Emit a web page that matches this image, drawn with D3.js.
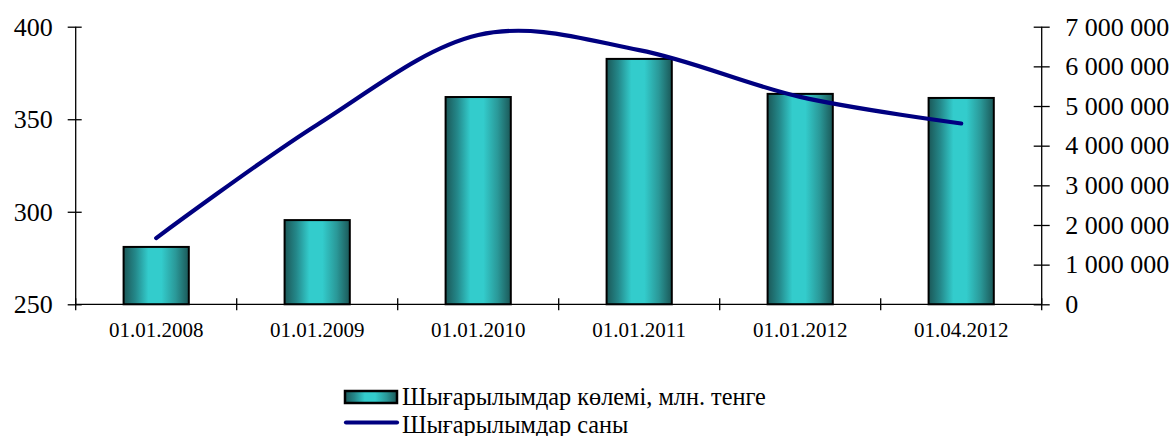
<!DOCTYPE html>
<html>
<head>
<meta charset="utf-8">
<script src="https://cdn.jsdelivr.net/npm/d3@7"></script>
<style>
  html, body { margin: 0; padding: 0; background: #fff; }
  svg { display: block; }
  svg text { font-family: "Liberation Serif", "Times New Roman", serif !important; }
</style>
</head>
<body>
<svg id="chart" width="1173" height="436"></svg>
<script>
const categories = ["01.01.2008", "01.01.2009", "01.01.2010", "01.01.2011", "01.01.2012", "01.04.2012"];
const volumeValues = [281, 295.5, 362, 382.6, 363.7, 361.5];           // bars, left axis
const issueCounts = [1670000, 4530000, 6790000, 6410000, 5230000, 4560000]; // line, right axis
const leftTicks = [250, 300, 350, 400];
const rightTicks = [0, 1000000, 2000000, 3000000, 4000000, 5000000, 6000000, 7000000];
const seriesNames = ["Шығарылымдар көлемі, млн. тенге", "Шығарылымдар саны"];

const svg = d3.select("#chart");
const plot = { left: 75.7, right: 1041.7, top: 26.7, bottom: 304.3 };

const defs = svg.append("defs");
const grad = defs.append("linearGradient").attr("id", "barGrad")
  .attr("x1", "0%").attr("x2", "100%").attr("y1", "0%").attr("y2", "0%");
[[0, "#1b5858"], [0.18, "#24888a"], [0.38, "#33cccc"], [0.58, "#33cccc"], [0.8, "#2a9898"], [1, "#1b5858"]]
  .forEach(([o, c]) => grad.append("stop").attr("offset", o).attr("stop-color", c));

const x = d3.scaleBand().domain(categories).range([plot.left, plot.right]).paddingInner(0).paddingOuter(0);
const yL = d3.scaleLinear().domain([250, 400]).range([plot.bottom, plot.top]);
const yR = d3.scaleLinear().domain([0, 7000000]).range([plot.bottom, plot.top]);

const barW = x.bandwidth() * 0.405;

// bars
svg.append("g").selectAll("rect").data(categories).join("rect")
  .attr("x", d => x(d) + x.bandwidth() / 2 - barW / 2)
  .attr("y", (d, i) => yL(volumeValues[i]))
  .attr("width", barW)
  .attr("height", (d, i) => yL(250) - yL(volumeValues[i]))
  .attr("fill", "url(#barGrad)")
  .attr("stroke", "#000").attr("stroke-width", 2);

// axes
const fmtSpace = v => d3.format(",")(v).replace(/,/g, " ");

const leftAxis = svg.append("g").attr("transform", `translate(${plot.left},0)`)
  .call(d3.axisLeft(yL).tickValues(leftTicks).tickSize(8).tickPadding(15).tickFormat(d3.format("d")));
leftAxis.selectAll(".tick line").attr("x2", -8).attr("x1", 6);
leftAxis.select(".domain").attr("d", `M0,${plot.top}V${plot.bottom}`);

const rightAxis = svg.append("g").attr("transform", `translate(${plot.right},0)`)
  .call(d3.axisRight(yR).tickValues(rightTicks).tickSize(8).tickPadding(15.5).tickFormat(fmtSpace));
rightAxis.selectAll(".tick line").attr("x1", -8).attr("x2", 8);
rightAxis.select(".domain").attr("d", `M0,${plot.top}V${plot.bottom}`);

[leftAxis, rightAxis].forEach(a => {
  a.selectAll("text").attr("font-size", 26).attr("fill", "#000");
  a.selectAll("line, path").attr("stroke", "#000").attr("stroke-width", 1.3);
});

const xAxis = svg.append("g").attr("transform", `translate(0,${plot.bottom})`)
  .call(d3.axisBottom(x).tickSize(0).tickPadding(18));
xAxis.select(".domain").attr("d", `M${plot.left},0H${plot.right}`).attr("stroke", "#000").attr("stroke-width", 1.3);
xAxis.selectAll("text").attr("font-size", 21).attr("fill", "#000");
// category boundary ticks
const boundaries = categories.map(c => x(c)).concat([x(categories[categories.length - 1]) + x.bandwidth()]);
svg.append("g").selectAll("line").data(boundaries).join("line")
  .attr("x1", d => d).attr("x2", d => d)
  .attr("y1", plot.bottom - 6).attr("y2", plot.bottom + 6)
  .attr("stroke", "#000").attr("stroke-width", 1.3);

// line
const line = d3.line()
  .x((d, i) => x(categories[i]) + x.bandwidth() / 2)
  .y(d => yR(d))
  .curve(d3.curveCatmullRom.alpha(0));
svg.append("path").datum(issueCounts)
  .attr("d", line)
  .attr("fill", "none").attr("stroke", "#000080").attr("stroke-width", 4.2)
  .attr("stroke-linecap", "round");

// legend
const lg = svg.append("g");
lg.append("rect").attr("x", 345).attr("y", 391).attr("width", 52).attr("height", 12)
  .attr("fill", "url(#barGrad)").attr("stroke", "#000").attr("stroke-width", 2.5);
lg.append("line").attr("x1", 346).attr("x2", 397).attr("y1", 422.5).attr("y2", 422.5)
  .attr("stroke", "#000080").attr("stroke-width", 4.2).attr("stroke-linecap", "round");
lg.selectAll("text").data(seriesNames).join("text")
  .attr("x", 402).attr("y", (d, i) => 405 + i * 27.5)
  .attr("font-size", 24.3).attr("fill", "#000")
  .text(d => d);
</script>
</body>
</html>
